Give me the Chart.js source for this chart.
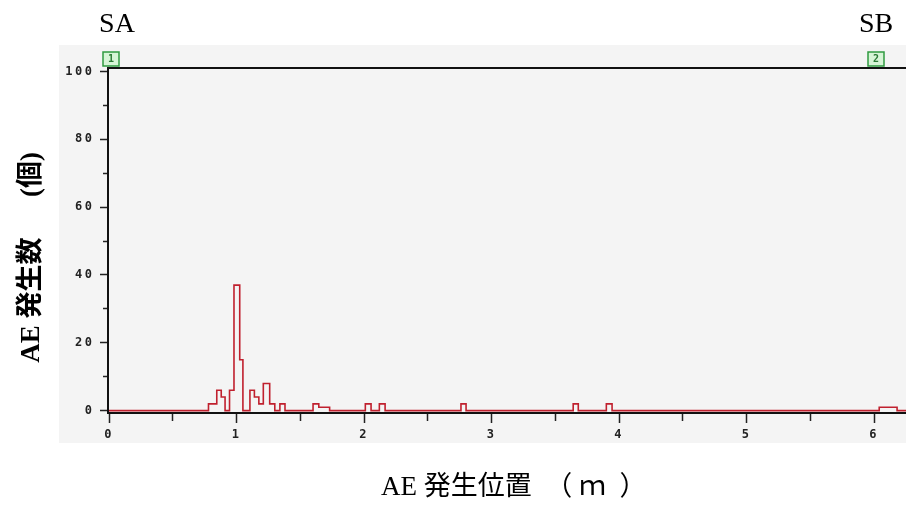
<!DOCTYPE html>
<html>
<head>
<meta charset="utf-8">
<script src="https://cdn.jsdelivr.net/npm/chart.js@4"></script>
<style>
  html, body { margin: 0; padding: 0; background: #ffffff; }
  #c { display: block; }
</style>
</head>
<body>
<canvas id="c" width="906" height="510"></canvas>
<script>
// ---- data ----
// left edge of each histogram step (m) and the AE count over that step
const aePosition = [0, 0.78, 0.845, 0.88, 0.91, 0.945, 0.98, 1.025, 1.05, 1.105, 1.14, 1.175, 1.21, 1.26, 1.30, 1.34, 1.38,
                    1.60, 1.645, 1.73, 2.01, 2.055, 2.12, 2.165, 2.76, 2.80, 3.64, 3.68, 3.90, 3.945, 6.04, 6.18, 6.25];
const aeCount    = [0, 2, 6, 4, 0, 6, 37, 15, 0, 6, 4, 2, 8, 2, 0, 2, 0,
                    2, 1, 0, 2, 0, 2, 0, 2, 0, 2, 0, 2, 0, 1, 0, 0];

const sensorPositions = [0, 6];
const sensorNumbers = ['1', '2'];
const sensorNames = ['SA', 'SB'];

const xTickLabels = ['0', '1', '2', '3', '4', '5', '6'];
const yTickLabels = ['0', '20', '40', '60', '80', '100'];

const xTitle = 'AE 発生位置　（ ｍ  ）';
const yTitle = 'AE 発生数　  (個)';

// ---- chart ----
const tickFont = { family: "'DejaVu Sans Mono', 'Liberation Mono', monospace", size: 12, weight: 'bold' };

const bgPlugin = {
  id: 'panelBg',
  beforeDraw(chart) {
    const ctx = chart.ctx;
    ctx.save();
    ctx.fillStyle = '#f4f4f4';
    ctx.fillRect(59, 45, 847, 398);
    ctx.restore();
  }
};

const spacingPlugin = {
  id: 'tickSpacing',
  afterDatasetsDraw(chart) { chart.ctx.letterSpacing = '2.5px'; },
  afterDraw(chart) { chart.ctx.letterSpacing = '0px'; }
};

const sensorPlugin = {
  id: 'sensors',
  afterDraw(chart) {
    const ctx = chart.ctx;
    const xs = chart.scales.x;
    const top = chart.chartArea.top;
    ctx.save();
    ctx.letterSpacing = '0px';
    sensorPositions.forEach((p, i) => {
      const px = Math.round(xs.getPixelForValue(p)) + 2;
      // marker box
      ctx.fillStyle = '#d6f5d6';
      ctx.strokeStyle = '#2f9a40';
      ctx.lineWidth = 1.5;
      ctx.fillRect(px - 8, top - 16, 16, 14);
      ctx.strokeRect(px - 8, top - 16, 16, 14);
      ctx.fillStyle = '#2a7a34';
      ctx.font = "bold 10px 'DejaVu Sans Mono', monospace";
      ctx.textAlign = 'center';
      ctx.textBaseline = 'middle';
      ctx.fillText(sensorNumbers[i], px, top - 9);
      // sensor name
      ctx.fillStyle = '#000';
      ctx.font = "28px 'Liberation Serif', 'Times New Roman', serif";
      ctx.fillText(sensorNames[i], px + (i === 0 ? 6 : 0), 25);
    });
    ctx.restore();
  }
};

const points = aePosition.map((x, i) => ({ x: x, y: aeCount[i] }));

new Chart(document.getElementById('c'), {
  type: 'line',
  data: {
    datasets: [{
      data: points,
      stepped: true,
      borderColor: '#c0202e',
      borderWidth: 1.6,
      pointRadius: 0,
      fill: false,
      tension: 0
    }]
  },
  options: {
    responsive: false,
    devicePixelRatio: 1,
    animation: false,
    layout: { padding: 0 },
    plugins: { legend: { display: false }, tooltip: { enabled: false }, title: { display: false } },
    scales: {
      x: {
        type: 'linear',
        position: 'bottom',
        min: -0.008,
        max: 6.25,
        afterFit: s => { s.height = 97; },
        ticks: {
          stepSize: 0.5,
          includeBounds: false,
          autoSkip: false,
          maxRotation: 0,
          padding: 5,
          z: 1,
          font: tickFont,
          color: '#222',
          callback: v => (Number.isInteger(v) ? xTickLabels[v] : '')
        },
        grid: {
          drawOnChartArea: false,
          tickLength: 10,
          tickColor: '#222',
          tickWidth: 1.5,
          tickBorderDash: c => (Number.isInteger(c.tick.value) ? [] : [7, 100])
        },
        border: { color: '#111', width: 2 },
        title: {
          display: true,
          text: '  ' + xTitle,
          color: '#000',
          font: { family: "'Liberation Serif', 'Noto Sans CJK JP', serif", size: 27 },
          padding: { top: 0, bottom: 6 }
        }
      },
      x2: {
        type: 'linear',
        position: 'top',
        min: -0.008,
        max: 6.25,
        afterFit: s => { s.height = 68; },
        ticks: { display: false },
        grid: { display: false },
        border: { color: '#111', width: 2 }
      },
      y: {
        type: 'linear',
        position: 'left',
        min: -0.7,
        max: 101,
        afterFit: s => { s.width = 108; },
        ticks: {
          stepSize: 10,
          includeBounds: false,
          autoSkip: false,
          padding: 5.5,
          z: 1,
          font: tickFont,
          color: '#222',
          callback: v => (v % 20 === 0 ? yTickLabels[v / 20] : '')
        },
        grid: {
          drawOnChartArea: false,
          tickLength: 8,
          tickColor: '#222',
          tickWidth: 1.5,
          tickBorderDash: c => (c.tick.value % 20 === 0 ? [] : [0, 3, 5, 100])
        },
        border: { color: '#111', width: 2 },
        title: {
          display: true,
          text: yTitle + '　 ',
          color: '#000',
          font: { family: "'Liberation Serif', 'Noto Sans CJK JP', serif", size: 27, weight: 'bold' },
          padding: { top: 16, bottom: 0 }
        }
      }
    }
  },
  plugins: [bgPlugin, spacingPlugin, sensorPlugin]
});
</script>
</body>
</html>
